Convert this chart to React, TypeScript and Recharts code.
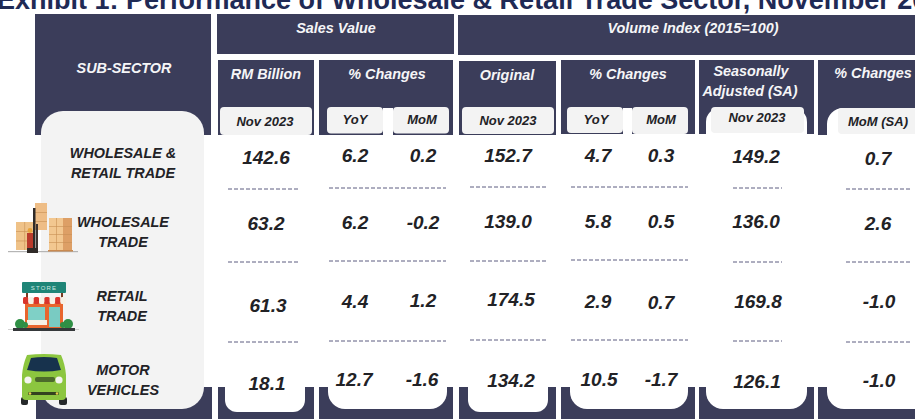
import { ScatterChart, Scatter, XAxis, YAxis, ReferenceArea, ReferenceLine } from 'recharts';

const W = 915;
const H = 419;
const NAVY = '#3b3d5a';
const PALE = '#f3f3f3';
const INK = '#222226';
const FONT = '"Liberation Sans", Arial, sans-serif';

const TITLE = 'Exhibit 1: Performance of Wholesale & Retail Trade Sector, November 2023';

// table values, top to bottom: wholesale & retail, wholesale, retail, motor vehicles
const salesValue = [142.6, 63.2, 61.3, 18.1];
const salesYoY = [6.2, 6.2, 4.4, 12.7];
const salesMoM = [0.2, -0.2, 1.2, -1.6];
const volumeOriginal = [152.7, 139.0, 174.5, 134.2];
const volumeYoY = [4.7, 5.8, 2.9, 10.5];
const volumeMoM = [0.3, 0.5, 0.7, -1.7];
const volumeSA = [149.2, 136.0, 169.8, 126.1];
const volumeSAMoM = [0.7, 2.6, -1.0, -1.0];
const valueColumns = [salesValue, salesYoY, salesMoM, volumeOriginal, volumeYoY, volumeMoM, volumeSA, volumeSAMoM];

const subSectors = ['WHOLESALE &', 'RETAIL TRADE', 'WHOLESALE', 'TRADE', 'RETAIL', 'TRADE', 'MOTOR', 'VEHICLES'];
const groupHeaders = ['Sales Value', 'Volume Index (2015=100)', 'SUB-SECTOR'];
const columnHeaders = ['RM Billion', '% Changes', 'Original', '% Changes', 'Seasonally', 'Adjusted (SA)', '% Changes'];
const pillLabels = ['Nov 2023', 'YoY', 'MoM', 'Nov 2023', 'YoY', 'MoM', 'Nov 2023', 'MoM (SA)'];

// where things sit on the picture, on pixel axes
const cellXs = [
  [266, 266, 268, 267], [355, 355, 355, 354], [423, 423, 423, 422], [508, 508, 511, 511],
  [598, 598, 598, 599], [661, 661, 661, 661], [756, 756, 758, 757], [878, 878, 879, 879],
];
const cellYs = [
  [157, 223, 305, 383], [155, 222, 301, 379], [155, 222, 300, 379], [155.5, 221, 299, 380],
  [155, 221, 301, 379], [155, 221, 302, 379], [156, 221, 301, 381], [158, 223, 301, 380],
];
const subSectorXs = [123, 123, 123, 123, 122, 122, 123, 123];
const subSectorYs = [153, 172.5, 222, 242, 296, 316, 370, 390];
const groupHeaderXs = [336, 693, 124];
const groupHeaderYs = [28, 28, 68];
const columnHeaderXs = [266, 387, 507, 628, 751, 750, 873];
const columnHeaderYs = [74, 74, 75, 74, 71, 91, 73];
const pillLabelXs = [265, 355, 422, 508, 596, 661, 757, 878];
const pillLabelYs = [121, 119.5, 119, 120.5, 119.5, 119, 117.5, 121];

const headerBlocks = [
  [35, 211, 14, 135], [217, 454, 14, 54], [458, 915, 15, 55],
  [218, 314, 60, 135], [319, 453, 60, 135], [459, 556, 61, 135],
  [561, 695, 60, 134], [699, 814, 60, 134], [818, 915, 60, 135],
];
const footBlocks = [
  [36, 212], [218, 314], [319, 453], [459, 556], [561, 695], [699, 814], [818, 915],
];
const footCutouts = [
  [225, 305, 412, 12], [328, 447, 409, 17], [468, 548, 412, 12],
  [570, 688, 409, 17], [706, 807, 409, 17], [827, 930, 409, 17],
];
const pillGaps = [[383, 393, 108, 135], [623, 632, 108, 134]];
const pillArches = [[706, 807, 108, 134, 14], [827, 930, 108, 135, 16]];
const pills = [
  [220, 312, 107, 135], [327, 383, 107, 133.5], [393, 449, 107, 133.5], [462, 554, 107, 134],
  [567, 623, 107, 133], [632, 688, 107, 134], [711, 804, 107, 133], [838, 930, 108, 134],
];
const dashSpans = [[228, 298], [329, 446], [470, 546], [571, 688], [733, 782], [846, 910]];
const dashYs = [
  [189, 188, 187, 187, 188, 189],
  [262, 261, 261, 260, 262, 262],
  [342, 341, 340, 340, 341, 342],
];

const toPoints = (labels: string[], xs: number[], ys: number[]) =>
  labels.map((label, i) => ({ label, x: xs[i], y: ys[i] }));

const valuePoints = valueColumns.flatMap((col, c) =>
  toPoints(col.map((v) => v.toFixed(1)), cellXs[c], cellYs[c])
);

function textMark(size: number, fill: string) {
  return (props: any) => (
    <text
      x={props.cx}
      y={props.cy}
      textAnchor="middle"
      dominantBaseline="central"
      fontFamily={FONT}
      fontWeight="bold"
      fontStyle="italic"
      fontSize={size}
      fill={fill}
    >
      {props.payload.label}
    </text>
  );
}

function TitleMark(props: any) {
  return (
    <text x={props.cx} y={props.cy} fontFamily={FONT} fontWeight="bold" fontSize={27} fill="#1f2a55">
      {props.payload.label}
    </text>
  );
}

// box stack with a carton grid over it
function Boxes({ x, y, w, h, rows, cols, fill }: any) {
  const line = '#c98f55';
  return (
    <g>
      <rect x={x} y={y} width={w} height={h} fill={fill} />
      {Array.from({ length: rows - 1 }, (_, i) => (
        <rect key={`r${i}`} x={x} y={y + ((i + 1) * h) / rows} width={w} height={0.6} fill={line} />
      ))}
      {Array.from({ length: cols - 1 }, (_, i) => (
        <rect key={`c${i}`} x={x + ((i + 1) * w) / cols} y={y} width={0.6} height={h} fill={line} />
      ))}
    </g>
  );
}

// icons drawn around their anchor point
function WarehouseIcon({ cx, cy }: any) {
  return (
    <g transform={`translate(${cx} ${cy})`}>
      <rect x={-35} y={23} width={70} height={1.2} fill="#b5b5b5" />
      <Boxes x={-27} y={-6} w={17} h={28} rows={3} cols={2} fill="#efc288" />
      <Boxes x={-8} y={-25} w={12} h={27} rows={3} cols={1} fill="#eebd86" />
      <Boxes x={6} y={-10} w={14} h={32} rows={4} cols={2} fill="#f2c790" />
      <Boxes x={20} y={-10} w={9} h={32} rows={4} cols={1} fill="#dd9f66" />
      <rect x={5} y={22} width={25} height={1.5} fill="#c98a50" />
      <rect x={-10} y={-20} width={2.5} height={45} fill="#2f2a28" />
      <rect x={-7} y={-4} width={2} height={27} fill="#3c3230" />
      <rect x={-16} y={5} width={6} height={16} fill="#b93a2c" />
      <circle cx={-13} cy={2.5} r={2.4} fill="#e8a23a" />
      <rect x={-16} y={20} width={11} height={5} fill="#2f2a28" />
    </g>
  );
}

function StoreIcon({ cx, cy }: any) {
  const stripes = [0, 1, 2, 3, 4, 5, 6, 7];
  return (
    <g transform={`translate(${cx} ${cy})`}>
      <rect x={-22} y={-25} width={44} height={11} rx={1} fill="#1f8577" />
      <text x={0} y={-17} textAnchor="middle" fontFamily={FONT} fontSize={6} fill="#cfe9e2" letterSpacing={1.2}>
        STORE
      </text>
      <rect x={-18} y={-14} width={2} height={6} fill="#7a3b20" />
      <rect x={17} y={-14} width={2} height={6} fill="#7a3b20" />
      <rect x={-19} y={-5} width={38} height={26} fill="#e8652d" />
      {stripes.map((s) => (
        <rect key={s} x={-21 + s * 5.35} y={-10} width={5.35} height={7} rx={1.5} fill={s % 2 ? '#f6f1e6' : '#d9352b'} />
      ))}
      <rect x={-16} y={0} width={17} height={13} fill="#7fd0c6" />
      <rect x={-17} y={13} width={20} height={5} fill="#f6f1e6" />
      <rect x={5} y={0} width={11} height={20} fill="#79cbc2" />
      <circle cx={-24} cy={17} r={5} fill="#2f8f45" />
      <circle cx={-19} cy={18} r={3} fill="#2f8f45" />
      <circle cx={24} cy={17} r={5} fill="#2f8f45" />
      <circle cx={19} cy={18} r={3} fill="#2f8f45" />
      <rect x={-36} y={22} width={71} height={0.8} fill="#c6c6c6" />
      <rect x={-31} y={21} width={62} height={3} fill="#35383a" />
    </g>
  );
}

function CarIcon({ cx, cy }: any) {
  return (
    <g transform={`translate(${cx} ${cy})`}>
      <rect x={-23} y={19} width={7} height={8} rx={2} fill="#25282a" />
      <rect x={15} y={19} width={8} height={8} rx={2} fill="#25282a" />
      <path d="M-17 -23 Q0 -25 17 -23 Q21 -14 22 -3 L22 18 Q22 22 18 22 L-18 22 Q-22 22 -22 18 L-22 -3 Q-21 -14 -17 -23 Z" fill="#8cc63f" />
      <path d="M-17 -8 L-13 -20 Q0 -22 13 -20 L17 -8 Q0 -5 -17 -8 Z" fill="#17324d" />
      <circle cx={-16} cy={2} r={3.6} fill="#f4f4f0" />
      <circle cx={15} cy={2} r={3.6} fill="#f4f4f0" />
      <rect x={-9} y={-1} width={20} height={5} rx={2} fill="#4c6a2b" />
      <rect x={-16} y={14} width={31} height={3} rx={1.5} fill="#33421f" />
      <circle cx={-14} cy={15.5} r={1.3} fill="#e9cf4f" />
      <circle cx={13} cy={15.5} r={1.3} fill="#e9cf4f" />
    </g>
  );
}

export default function App() {
  return (
    <div style={{ position: 'absolute', left: 0, top: 0, width: W, height: H, background: '#fff' }}>
      <ScatterChart width={W} height={H} margin={{ top: 0, right: 0, bottom: 0, left: 0 }}>
        <XAxis type="number" dataKey="x" domain={[0, W]} hide allowDataOverflow />
        <YAxis type="number" dataKey="y" domain={[0, H]} reversed hide allowDataOverflow />

        {headerBlocks.map(([x1, x2, y1, y2]) => (
          <ReferenceArea key={`h${x1}-${y1}`} x1={x1} x2={x2} y1={y1} y2={y2} fill={NAVY} fillOpacity={1} stroke="none" />
        ))}
        {footBlocks.map(([x1, x2]) => (
          <ReferenceArea key={`f${x1}`} x1={x1} x2={x2} y1={387} y2={419} fill={NAVY} fillOpacity={1} stroke="none" />
        ))}
        {footCutouts.map(([x1, x2, bottom, r]) => (
          <ReferenceArea key={`c${x1}`} x1={x1} x2={x2} y1={360} y2={bottom} fill="#fff" fillOpacity={1} stroke="none" radius={r} ifOverflow="visible" />
        ))}
        {pillGaps.map(([x1, x2, y1, y2]) => (
          <ReferenceArea key={`g${x1}`} x1={x1} x2={x2} y1={y1} y2={y2} fill="#fff" fillOpacity={1} stroke="none" />
        ))}
        {pillArches.map(([x1, x2, y1, y2, r]) => (
          <ReferenceArea key={`a${x1}`} x1={x1} x2={x2} y1={y1} y2={y2 + 30} fill="#fff" fillOpacity={1} stroke="none" radius={r} ifOverflow="visible" />
        ))}
        {pills.map(([x1, x2, y1, y2]) => (
          <ReferenceArea key={`p${x1}`} x1={x1} x2={x2} y1={y1} y2={y2} fill={PALE} fillOpacity={1} stroke="none" radius={4} ifOverflow="visible" />
        ))}
        <ReferenceArea x1={41} x2={204} y1={111} y2={409} fill={PALE} fillOpacity={1} stroke="none" radius={22} />

        {dashYs.flatMap((ys, r) =>
          ys.map((y, c) => (
            <ReferenceLine
              key={`d${r}-${c}`}
              segment={[{ x: dashSpans[c][0], y }, { x: dashSpans[c][1], y }]}
              stroke="#5c5c80"
              strokeWidth={1}
              strokeDasharray="4 2"
            />
          ))
        )}

        <Scatter data={[{ label: TITLE, x: -3, y: 9 }]} shape={TitleMark} isAnimationActive={false} />
        <Scatter data={toPoints(groupHeaders, groupHeaderXs, groupHeaderYs)} shape={textMark(14.4, '#f5f5f7')} isAnimationActive={false} />
        <Scatter data={toPoints(columnHeaders, columnHeaderXs, columnHeaderYs)} shape={textMark(14.4, '#f5f5f7')} isAnimationActive={false} />
        <Scatter data={toPoints(pillLabels, pillLabelXs, pillLabelYs)} shape={textMark(13, INK)} isAnimationActive={false} />
        <Scatter data={toPoints(subSectors, subSectorXs, subSectorYs)} shape={textMark(14.4, INK)} isAnimationActive={false} />
        <Scatter data={valuePoints} shape={textMark(19, INK)} isAnimationActive={false} />

        <Scatter data={[{ x: 43, y: 228 }]} shape={WarehouseIcon} isAnimationActive={false} />
        <Scatter data={[{ x: 44, y: 307 }]} shape={StoreIcon} isAnimationActive={false} />
        <Scatter data={[{ x: 44, y: 378 }]} shape={CarIcon} isAnimationActive={false} />
      </ScatterChart>
    </div>
  );
}
